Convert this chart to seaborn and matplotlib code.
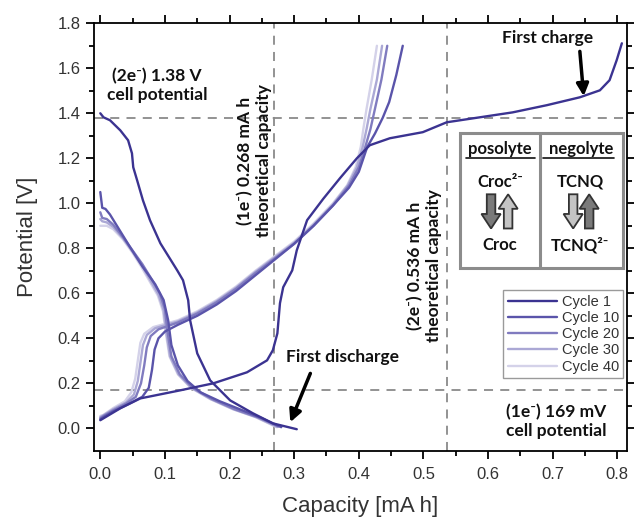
import numpy as np
import pandas as pd
import seaborn as sns
import matplotlib
matplotlib.use("Agg")
from matplotlib import pyplot as plt
from matplotlib.patches import Rectangle, FancyArrow
from matplotlib.lines import Line2D

# Cycle data (capacity [mA h], potential [V])
cycles = ["Cycle 1", "Cycle 10", "Cycle 20", "Cycle 30", "Cycle 40"]
colors = ["#3b3391", "#5a54aa", "#807bbf", "#aba8d5", "#d4d2e9"]

dis_x = {
    "Cycle 1": [0.0, 0.005, 0.015, 0.031, 0.043, 0.049, 0.051, 0.057, 0.066, 0.077, 0.093, 0.119, 0.128,
                0.136, 0.139, 0.150, 0.170, 0.201, 0.236, 0.267, 0.304],
    "Cycle 10": [0.0, 0.003, 0.008, 0.015, 0.03, 0.045, 0.065, 0.085, 0.098, 0.105, 0.11, 0.12, 0.135,
                 0.155, 0.185, 0.22, 0.25, 0.28],
    "Cycle 20": [0.0, 0.003, 0.01, 0.02, 0.035, 0.05, 0.065, 0.08, 0.092, 0.1, 0.104, 0.11, 0.123,
                 0.143, 0.173, 0.208, 0.243, 0.276],
    "Cycle 30": [0.0, 0.003, 0.01, 0.02, 0.035, 0.05, 0.064, 0.078, 0.09, 0.098, 0.102, 0.108, 0.121,
                 0.141, 0.171, 0.206, 0.241, 0.274],
    "Cycle 40": [0.0, 0.003, 0.01, 0.02, 0.035, 0.05, 0.063, 0.077, 0.089, 0.097, 0.101, 0.107, 0.12,
                 0.14, 0.17, 0.205, 0.24, 0.273],
}
dis_y = {
    "Cycle 1": [1.40, 1.382, 1.369, 1.324, 1.28, 1.222, 1.16, 1.102, 1.013, 0.924, 0.822, 0.702, 0.658,
                0.569, 0.48, 0.333, 0.213, 0.124, 0.067, 0.022, -0.004],
    "Cycle 10": [1.05, 0.98, 0.975, 0.95, 0.88, 0.81, 0.72, 0.64, 0.57, 0.48, 0.37, 0.28, 0.21,
                 0.16, 0.12, 0.08, 0.045, 0.005],
    "Cycle 20": [0.96, 0.935, 0.93, 0.905, 0.85, 0.79, 0.73, 0.66, 0.60, 0.53, 0.43, 0.32, 0.24,
                 0.18, 0.13, 0.085, 0.05, 0.008],
    "Cycle 30": [0.93, 0.92, 0.915, 0.895, 0.845, 0.785, 0.725, 0.655, 0.595, 0.525, 0.43, 0.32, 0.24,
                 0.18, 0.13, 0.085, 0.05, 0.006],
    "Cycle 40": [0.90, 0.90, 0.9, 0.885, 0.84, 0.78, 0.72, 0.65, 0.59, 0.52, 0.43, 0.32, 0.24,
                 0.18, 0.13, 0.085, 0.05, 0.005],
}
chg_x = {
    "Cycle 1": [0.0, 0.031, 0.062, 0.124, 0.175, 0.227, 0.258, 0.267, 0.274, 0.278, 0.283, 0.297, 0.304,
                0.32, 0.345, 0.371, 0.397, 0.417, 0.448, 0.499, 0.536, 0.587, 0.638, 0.691, 0.742,
                0.773, 0.788, 0.799, 0.807],
    "Cycle 10": [0.0, 0.005, 0.02, 0.045, 0.065, 0.075, 0.08, 0.084, 0.09, 0.1, 0.12, 0.15, 0.18, 0.21,
                 0.24, 0.27, 0.30, 0.33, 0.36, 0.385, 0.40, 0.413, 0.425, 0.437, 0.447, 0.458, 0.468],
    "Cycle 20": [0.0, 0.005, 0.02, 0.04, 0.055, 0.063, 0.068, 0.072, 0.078, 0.09, 0.12, 0.15, 0.18, 0.21,
                 0.24, 0.27, 0.30, 0.33, 0.36, 0.385, 0.40, 0.41, 0.418, 0.425, 0.435, 0.444],
    "Cycle 30": [0.0, 0.005, 0.02, 0.04, 0.052, 0.058, 0.062, 0.066, 0.072, 0.085, 0.12, 0.15, 0.18, 0.21,
                 0.24, 0.27, 0.30, 0.33, 0.36, 0.383, 0.397, 0.406, 0.412, 0.418, 0.428, 0.436],
    "Cycle 40": [0.0, 0.005, 0.02, 0.038, 0.048, 0.054, 0.058, 0.062, 0.068, 0.082, 0.12, 0.15, 0.18, 0.21,
                 0.24, 0.27, 0.30, 0.33, 0.36, 0.382, 0.395, 0.403, 0.407, 0.412, 0.42, 0.428],
}
chg_y = {
    "Cycle 1": [0.036, 0.089, 0.133, 0.169, 0.2, 0.249, 0.302, 0.347, 0.422, 0.556, 0.627, 0.702, 0.791,
                0.925, 1.02, 1.112, 1.2, 1.258, 1.289, 1.316, 1.36, 1.382, 1.404, 1.436, 1.471,
                1.502, 1.547, 1.636, 1.711],
    "Cycle 10": [0.04, 0.05, 0.075, 0.11, 0.14, 0.18, 0.26, 0.35, 0.40, 0.43, 0.46, 0.50, 0.55, 0.61,
                 0.68, 0.75, 0.82, 0.90, 0.99, 1.07, 1.14, 1.25, 1.31, 1.38, 1.45, 1.57, 1.70],
    "Cycle 20": [0.045, 0.055, 0.08, 0.11, 0.14, 0.20, 0.28, 0.36, 0.41, 0.44, 0.47, 0.51, 0.56, 0.62,
                 0.69, 0.755, 0.82, 0.90, 0.99, 1.08, 1.16, 1.25, 1.33, 1.42, 1.55, 1.70],
    "Cycle 30": [0.05, 0.058, 0.085, 0.115, 0.15, 0.21, 0.29, 0.37, 0.415, 0.445, 0.475, 0.515, 0.565, 0.625,
                 0.695, 0.76, 0.825, 0.905, 0.995, 1.08, 1.16, 1.25, 1.33, 1.42, 1.55, 1.70],
    "Cycle 40": [0.055, 0.06, 0.09, 0.12, 0.16, 0.22, 0.30, 0.38, 0.42, 0.45, 0.48, 0.52, 0.57, 0.63,
                 0.70, 0.765, 0.83, 0.91, 1.0, 1.08, 1.16, 1.25, 1.33, 1.42, 1.55, 1.70],
}

ref_capacity = [0.268, 0.536]
ref_potential = [1.38, 0.169]

sns.set_theme(style="ticks")
plt.rcParams["font.family"] = ["Liberation Sans", "DejaVu Sans"]
bold_font = ["Lato", "DejaVu Sans"]

fig = plt.figure(figsize=(6.34, 5.17), dpi=100)
ax = fig.add_axes([0.148, 0.128, 0.841, 0.827])

handles = {}
for name, col in reversed(list(zip(cycles, colors))):
    seg = pd.concat([
        pd.DataFrame({"cap": dis_x[name], "pot": dis_y[name], "seg": "dis"}),
        pd.DataFrame({"cap": chg_x[name], "pot": chg_y[name], "seg": "chg"}),
    ])
    sns.lineplot(data=seg, x="cap", y="pot", units="seg", estimator=None, sort=False,
                 color=col, lw=1.7, ax=ax, legend=False)
    handles[name] = Line2D([], [], color=col, lw=1.7)

for c in ref_capacity:
    ax.axvline(c, color="#8a8a8a", ls=(0, (5, 4)), lw=1.3, zorder=0)
for p in ref_potential:
    ax.axhline(p, color="#8a8a8a", ls=(0, (5, 4)), lw=1.3, zorder=0)

ax.set_xlim(-0.01, 0.815)
ax.set_ylim(-0.1, 1.8)
ax.set_xticks(np.arange(0, 0.81, 0.1))
ax.set_xticks(np.arange(0, 0.81, 0.05), minor=True)
ax.set_yticks(np.arange(0, 1.81, 0.2))
ax.set_yticks(np.arange(0, 1.81, 0.1), minor=True)
ax.xaxis.set_major_formatter(matplotlib.ticker.FormatStrFormatter("%.1f"))
ax.yaxis.set_major_formatter(matplotlib.ticker.FormatStrFormatter("%.1f"))
ax.tick_params(which="both", direction="out", top=True, right=True, color="black", width=1.3)
ax.tick_params(which="major", length=6, labelsize=12, labelcolor="#333333")
ax.tick_params(axis="x", which="major", pad=6)
ax.tick_params(which="minor", length=3.5)
for s in ax.spines.values():
    s.set_linewidth(1.3)
    s.set_color("black")
ax.set_xlabel("Capacity [mA h]", fontsize=16, color="#333333", labelpad=10)
ax.set_ylabel("Potential [V]", fontsize=16, color="#333333", labelpad=14)

# annotations
tkw = dict(fontsize=12.5, fontweight="bold", family=bold_font, ha="center", va="center",
           multialignment="center", color="#111111")
ax.text(0.088, 1.524, "(2e⁻) 1.38 V\ncell potential", **tkw)
ax.text(0.238, 1.19, "(1e⁻) 0.268 mA h\ntheoretical capacity", rotation=90, **tkw)
ax.text(0.502, 0.724, "(2e⁻) 0.536 mA h\ntheoretical capacity", rotation=90, **tkw)
ax.text(0.705, 0.031, "(1e⁻) 169 mV\ncell potential", **tkw)
ax.text(0.692, 1.733, "First charge", **tkw)
ax.text(0.374, 0.316, "First discharge", **tkw)
akw = dict(arrowstyle="-|>", lw=2.5, color="black", mutation_scale=18, shrinkA=0, shrinkB=0)
ax.annotate("", xy=(0.748, 1.476), xytext=(0.742, 1.675), arrowprops=akw)
ax.annotate("", xy=(0.294, 0.027), xytext=(0.325, 0.244), arrowprops=akw)

# inset box posolyte / negolyte
tr = ax.transAxes
ax.add_patch(Rectangle((0.687, 0.428), 0.3055, 0.315, transform=tr, fill=True, facecolor="white",
                       edgecolor="#8c8c8c", lw=2.2, zorder=5))
ax.add_line(Line2D([0.837, 0.837], [0.428, 0.743], transform=tr, color="#8c8c8c", lw=2.2, zorder=6))
ikw = dict(transform=tr, fontsize=12, fontweight="bold", family=bold_font, ha="center", va="center",
           zorder=7, color="#111111")
ax.text(0.762, 0.705, "posolyte", **ikw)
ax.text(0.914, 0.705, "negolyte", **ikw)
ax.add_line(Line2D([0.698, 0.828], [0.686, 0.686], transform=tr, color="#111111", lw=1.2, zorder=7))
ax.add_line(Line2D([0.843, 0.976], [0.686, 0.686], transform=tr, color="#111111", lw=1.2, zorder=7))
ax.text(0.762, 0.629, "Croc²⁻", **ikw)
ax.text(0.912, 0.629, "TCNQ", **ikw)
ax.text(0.762, 0.481, "Croc", **ikw)
ax.text(0.912, 0.481, "TCNQ²⁻", **ikw)
for xa, down, fc in [(0.745, True, "#7a7a7a"), (0.777, False, "#c4c4c4"),
                     (0.899, True, "#c4c4c4"), (0.929, False, "#7a7a7a")]:
    y0, dy = (0.600, -0.08) if down else (0.520, 0.08)
    ax.add_patch(FancyArrow(xa, y0, 0, dy, width=0.016, head_width=0.036, head_length=0.034,
                            length_includes_head=True, transform=tr, facecolor=fc,
                            edgecolor="#333333", lw=1.3, zorder=7))

leg = ax.legend([handles[n] for n in cycles], cycles, loc="upper right", bbox_to_anchor=(0.993, 0.375),
                fontsize=10.5, frameon=True, fancybox=False, framealpha=1, edgecolor="#9a9a9a",
                handlelength=3.4, handletextpad=0.3, labelspacing=0.15, borderpad=0.3,
                borderaxespad=0)
for t in leg.get_texts():
    t.set_color("#333333")
leg.get_frame().set_linewidth(1.0)

fig.savefig("out.png", dpi=100)
